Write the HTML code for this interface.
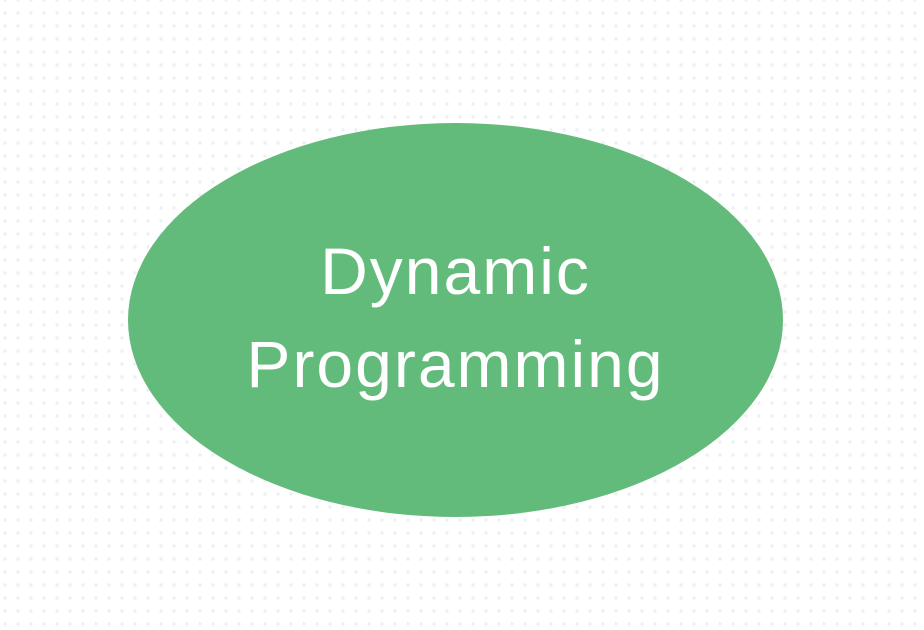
<!DOCTYPE html>
<html><head><style>
html,body{margin:0;padding:0;}
body{width:924px;height:630px;background-color:#fff;background-image:radial-gradient(circle,#eef0f4 1.6px,transparent 2px);background-size:13px 13px;background-position:-1.5px -6.5px;position:relative;overflow:hidden;}
.e{position:absolute;left:128px;top:123px;width:655px;height:394px;border-radius:50%;background:#62bb7b;}
.t{position:absolute;left:128px;width:655px;text-align:center;color:#fff;font-family:"Liberation Sans",sans-serif;font-size:66px;letter-spacing:2px;line-height:1;}
</style></head><body>
<div class="e"></div>
<div class="t" style="top:238px">Dynamic</div>
<div class="t" style="top:331px">Programming</div>
</body></html>
